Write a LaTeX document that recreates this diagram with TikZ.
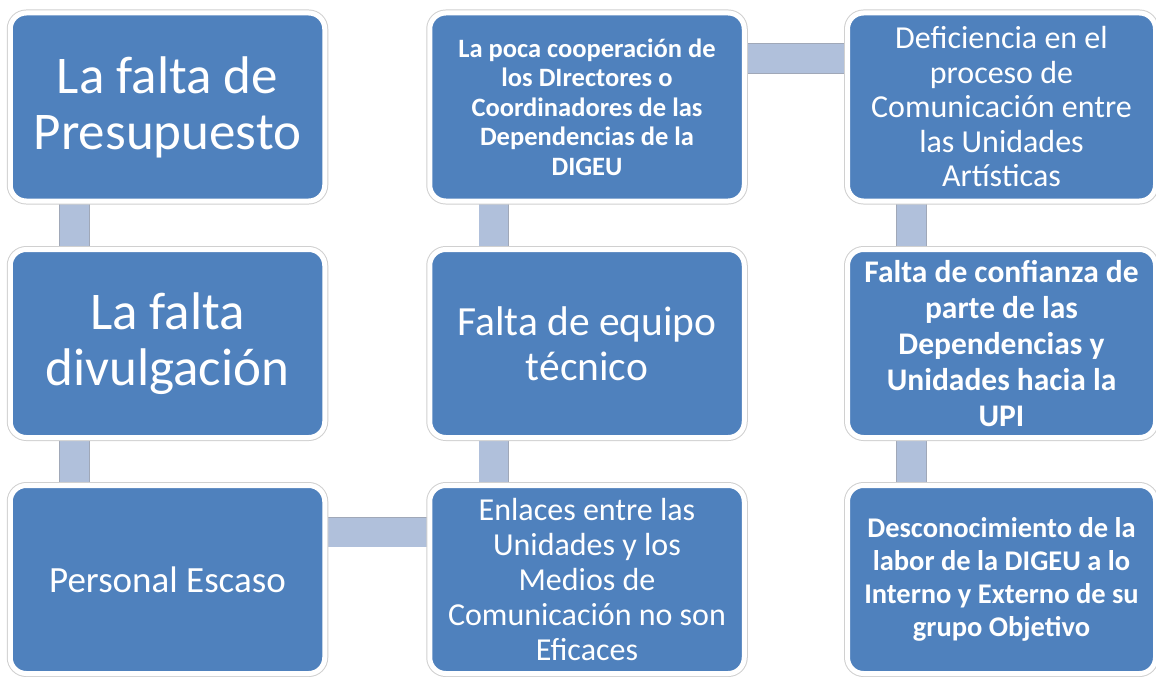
\documentclass[tikz,border=0pt]{standalone}
\usepackage{fontspec}
\setmainfont{Carlito}
\usepackage{tikz}
\usetikzlibrary{backgrounds}
\definecolor{boxblue}{RGB}{79,129,189}
\definecolor{barblue}{RGB}{176,192,219}
\definecolor{bargray}{RGB}{160,168,184}
\definecolor{rimgray}{RGB}{208,208,208}

\tikzset{
  cause/.style={rounded corners=16pt, fill=boxblue, draw=white, line width=5pt,
    preaction={draw=rimgray, line width=7pt}, text=white, align=center,
    minimum width=314.5pt, minimum height=188pt, inner sep=0pt},
  link/.style={draw=barblue, line width=29pt, preaction={draw=bargray, line width=30.5pt}}
}

\begin{document}
\begin{tikzpicture}[x=1pt,y=-1pt]
    \useasboundingbox (0,0) rectangle (1156,677);
    % Draw the first column
    \node[cause, font=\fontsize{53}{56}\selectfont] (presupuesto) at (167.5,107) {La falta de\\Presupuesto};
    \node[cause, font=\fontsize{53}{56}\selectfont] (divulgacion) at (167.5,343.5) {La falta\\divulgación};
    \node[cause, font=\fontsize{37}{40}\selectfont] (personal) at (167.5,579.5) {Personal Escaso};
    % Draw the second column
    \node[cause, font=\fontsize{26.5}{29.5}\selectfont\bfseries] (cooperacion) at (587,107) {La poca cooperación de\\los DIrectores o\\Coordinadores de las\\Dependencias de la\\DIGEU};
    \node[cause, font=\fontsize{41.5}{45}\selectfont] (equipo) at (587,343.5) {Falta de equipo\\técnico};
    \node[cause, font=\fontsize{32}{35}\selectfont] (enlaces) at (587,579.5) {Enlaces entre las\\Unidades y los\\Medios de\\Comunicación no son\\Eficaces};
    % Draw the third column
    \node[cause, minimum width=308pt, font=\fontsize{32}{34.5}\selectfont] (comunicacion) at (1001.5,107) {Deficiencia en el\\proceso de\\Comunicación entre\\las Unidades\\Artísticas};
    \node[cause, minimum width=308pt, font=\fontsize{31.5}{36}\selectfont\bfseries] (confianza) at (1001.5,343.5) {Falta de confianza de\\parte de las\\Dependencias y\\Unidades hacia la\\UPI};
    \node[cause, minimum width=308pt, font=\fontsize{28.5}{33}\selectfont\bfseries] (desconocimiento) at (1001.5,579.5) {Desconocimiento de la\\labor de la DIGEU a lo\\Interno y Externo de su\\grupo Objetivo};
    % Draw the bars behind the boxes
    \begin{scope}[on background layer]
    \draw[link] ([xshift=66.5pt]presupuesto.south west) -- ([xshift=66.5pt]divulgacion.north west);
    \draw[link] ([xshift=66.5pt]divulgacion.south west) -- ([xshift=66.5pt]personal.north west);
    \draw[link] ([xshift=66.5pt]cooperacion.south west) -- ([xshift=66.5pt]equipo.north west);
    \draw[link] ([xshift=66.5pt]equipo.south west) -- ([xshift=66.5pt]enlaces.north west);
    \draw[link] ([xshift=66.5pt]comunicacion.south west) -- ([xshift=66.5pt]confianza.north west);
    \draw[link] ([xshift=66.5pt]confianza.south west) -- ([xshift=66.5pt]desconocimiento.north west);
    \draw[link] ([yshift=48.5pt]cooperacion.east) -- ([yshift=48.5pt]comunicacion.west);
    \draw[link] ([yshift=47.5pt]personal.east) -- ([yshift=47.5pt]enlaces.west);
    \end{scope}
\end{tikzpicture}
\end{document}
